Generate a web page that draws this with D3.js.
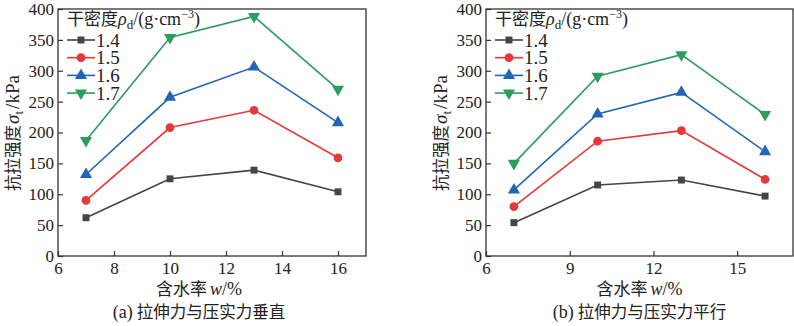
<!DOCTYPE html>
<html>
<head>
<meta charset="utf-8">
<script src="https://cdn.jsdelivr.net/npm/d3@7"></script>
<style>
  body { margin: 0; background: #fff; }
</style>
</head>
<body>
<div id="chart"></div>
<script>
// moisture content, %
const moisture = [7, 10, 13, 16];
const densities = ["1.4", "1.5", "1.6", "1.7"];

// tensile strength, kPa — tension perpendicular to compaction
const perp14 = [62, 125, 139, 104];
const perp15 = [90, 208, 236, 159];
const perp16 = [132, 257, 306, 216];
const perp17 = [187, 354, 388, 270];

// tensile strength, kPa — tension parallel to compaction
const para14 = [54, 115, 123, 97];
const para15 = [80, 186, 203, 124];
const para16 = [107, 230, 265, 169];
const para17 = [150, 291, 326, 229];

const yTicks = [0, 50, 100, 150, 200, 250, 300, 350, 400];
const xTicksA = [6, 8, 10, 12, 14, 16];
const xTicksB = [6, 9, 12, 15];

const colors = ["#454545", "#e5383b", "#2166b4", "#2e9c5c"];
const symbols = [d3.symbolSquare, d3.symbolCircle, d3.symbolTriangle, d3.symbolTriangle];
const symSizes = [48, 60, 64, 64];

const SERIF = '"Liberation Serif"';
const CJK = '"Noto Sans CJK SC"';

const width = 794, height = 326;
const svg = d3.select("#chart").append("svg")
  .attr("width", width)
  .attr("height", height);

// serif text, CJK parts go in their own tspan
function serif(sel, size) {
  return sel.style("font-family", SERIF).style("font-size", size + "px").attr("fill", "#222");
}
function cjk(sel, size) {
  return sel.style("font-family", CJK).style("font-size", size + "px");
}

function drawPanel(left, right, series, xTicks, caption, labelShift) {
  const top = 9, bottom = 256;
  const x = d3.scaleLinear().domain([6, 17]).range([left, right]);
  const y = d3.scaleLinear().domain([0, 400]).range([bottom, top]);
  const g = svg.append("g");

  // axes, ticks point inward
  const xAxis = g.append("g")
    .attr("transform", `translate(0,${bottom})`)
    .call(d3.axisBottom(x).tickValues(xTicks).tickSizeInner(-5).tickSizeOuter(0).tickPadding(6));
  const yAxis = g.append("g")
    .attr("transform", `translate(${left},0)`)
    .call(d3.axisLeft(y).tickValues(yTicks).tickSizeInner(-5).tickSizeOuter(0).tickPadding(4));
  [xAxis, yAxis].forEach(a => {
    a.select(".domain").remove();
    a.selectAll("line").attr("stroke", "#333").attr("stroke-width", 1.2);
    serif(a.selectAll("text"), 17);
  });

  // frame
  g.append("rect")
    .attr("x", left).attr("y", top)
    .attr("width", right - left).attr("height", bottom - top)
    .attr("fill", "none").attr("stroke", "#333").attr("stroke-width", 1.3);

  const line = d3.line().x((d, i) => x(moisture[i])).y(d => y(d));

  series.forEach((vals, k) => {
    g.append("path")
      .datum(vals)
      .attr("d", line)
      .attr("fill", "none")
      .attr("stroke", colors[k])
      .attr("stroke-width", 1.6);
    g.selectAll(null)
      .data(vals)
      .join("path")
      .attr("d", d3.symbol(symbols[k], symSizes[k]))
      .attr("transform", (d, i) => `translate(${x(moisture[i])},${y(d)})${k === 3 ? " rotate(180)" : ""}`)
      .attr("fill", colors[k]);
  });

  // legend
  const lg = g.append("g").attr("transform", `translate(${left + 9},0)`);
  const title = serif(lg.append("text").attr("x", 0).attr("y", 25), 18);
  cjk(title.append("tspan").text("干密度"), 17);
  title.append("tspan").text("ρ").style("font-style", "italic");
  title.append("tspan").text("d").style("font-size", "13px").attr("dy", 4);
  title.append("tspan").text("/(g·cm").attr("dy", -4);
  title.append("tspan").text("−3").style("font-size", "12px").attr("dy", -7);
  title.append("tspan").text(")").attr("dy", 7);

  densities.forEach((name, k) => {
    const cy = 40 + k * 17.7;
    lg.append("line")
      .attr("x1", 0).attr("x2", 28).attr("y1", cy).attr("y2", cy)
      .attr("stroke", colors[k]).attr("stroke-width", 1.6);
    lg.append("path")
      .attr("d", d3.symbol(symbols[k], symSizes[k]))
      .attr("transform", `translate(14,${cy})${k === 3 ? " rotate(180)" : ""}`)
      .attr("fill", colors[k]);
    serif(lg.append("text").attr("x", 29).attr("y", cy + 6.5), 19).text(name);
  });

  // y label
  const cx = (left + right) / 2 + labelShift;
  const yl = serif(g.append("text")
    .attr("transform", `translate(${left - 39},133) rotate(-90)`)
    .attr("text-anchor", "middle"), 19);
  cjk(yl.append("tspan").text("抗拉强度"), 16.5);
  yl.append("tspan").text("σ").style("font-style", "italic").attr("dx", 1);
  yl.append("tspan").text("t").style("font-size", "13px").attr("dy", 4);
  yl.append("tspan").text("/kPa").attr("dy", -4).attr("dx", 2);

  // x label
  const xl = serif(g.append("text")
    .attr("x", cx).attr("y", 295)
    .attr("text-anchor", "middle"), 18);
  cjk(xl.append("tspan").text("含水率"), 17);
  xl.append("tspan").text("w").style("font-style", "italic").attr("dx", 3);
  xl.append("tspan").text("/%");

  const cap = serif(g.append("text")
    .attr("x", cx).attr("y", 318)
    .attr("text-anchor", "middle"), 18);
  cap.append("tspan").text(caption[0]);
  cjk(cap.append("tspan").text(caption[1]), 16.5).attr("dx", 4);
}

drawPanel(58, 366, [perp14, perp15, perp16, perp17], xTicksA, ["(a)", "拉伸力与压实力垂直"], -13);
drawPanel(486, 793, [para14, para15, para16, para17], xTicksB, ["(b)", "拉伸力与压实力平行"], 0);
</script>
</body>
</html>
